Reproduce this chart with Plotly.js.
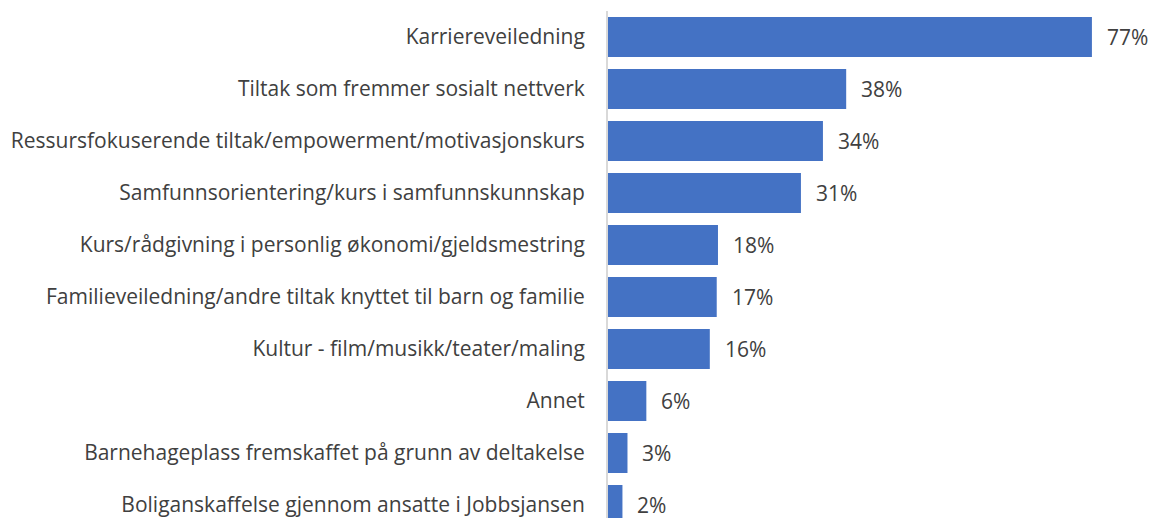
<!DOCTYPE html>
<html>
<head>
<meta charset="utf-8">
<script src="https://cdn.plot.ly/plotly-3.0.1.min.js"></script>
<style>html,body{margin:0;padding:0;background:#fff;}#chart{width:1151px;height:518px;}</style>
</head>
<body>
<div id="chart"></div>
<script>
const categories = [
  "Karriereveiledning",
  "Tiltak som fremmer sosialt nettverk",
  "Ressursfokuserende tiltak/empowerment/motivasjonskurs",
  "Samfunnsorientering/kurs i samfunnskunnskap",
  "Kurs/rådgivning i personlig økonomi/gjeldsmestring",
  "Familieveiledning/andre tiltak knyttet til barn og familie",
  "Kultur - film/musikk/teater/maling",
  "Annet",
  "Barnehageplass fremskaffet på grunn av deltakelse",
  "Boliganskaffelse gjennom ansatte i Jobbsjansen"
];
const values = [77, 37.9, 34.2, 30.7, 17.5, 17.3, 16.2, 6.1, 3.1, 2.3];
const valueLabels = ["77%", "38%", "34%", "31%", "18%", "17%", "16%", "6%", "3%", "2%"];

const font = "Open Sans, Noto Sans, sans-serif";
const textColor = "#404040";

const trace = {
  type: "bar",
  orientation: "h",
  y: categories,
  x: values,
  marker: {color: "#4472C4"},
  width: 0.77,
  hoverinfo: "none"
};

const annotations = categories.map((c, i) => ({
  x: values[i], y: c, xref: "x", yref: "y",
  text: valueLabels[i], showarrow: false,
  xanchor: "left", yanchor: "middle", xshift: 13,
  font: {family: font, size: 21, color: textColor}
}));

const layout = {
  width: 1151, height: 518,
  margin: {l: 608, r: 0, t: 11, b: 0, pad: 0},
  paper_bgcolor: "#fff", plot_bgcolor: "#fff",
  showlegend: false,
  xaxis: {range: [0, 86.4], visible: false, fixedrange: true},
  yaxis: {
    type: "category",
    categoryorder: "array", categoryarray: categories,
    range: [9.25, -0.5],
    showline: true, linecolor: "#D9D9D9", linewidth: 2,
    showgrid: false, zeroline: false, ticks: "",
    ticklabelstandoff: 17,
    tickfont: {family: font, size: 21, color: textColor},
    automargin: false
  },
  annotations: annotations
};

Plotly.newPlot("chart", [trace], layout, {staticPlot: true});
</script>
</body>
</html>
